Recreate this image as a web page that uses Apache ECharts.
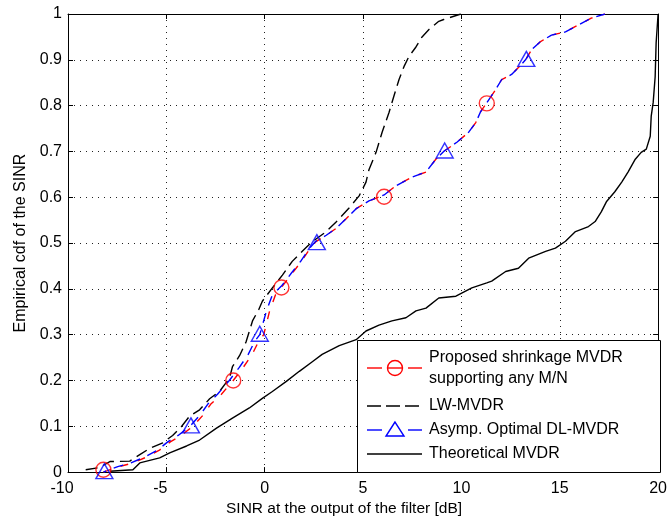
<!DOCTYPE html>
<html>
<head>
<meta charset="utf-8">
<script src="https://cdn.jsdelivr.net/npm/echarts@6/dist/echarts.min.js"></script>
<style>
html,body{margin:0;padding:0;background:#fff;}
#c{width:670px;height:522px;}
</style>
</head>
<body>
<div id="c"></div>
<script>
// ---- data ----
var xTicks = [-10, -5, 0, 5, 10, 15, 20];
var yTicks = [0, 0.1, 0.2, 0.3, 0.4, 0.5, 0.6, 0.7, 0.8, 0.9, 1];

var proposedCurve = [[-8.2,0.0],[-7.4,0.012],[-6.7,0.02],[-6.0,0.033],[-5.35,0.048],[-4.8,0.066],[-4.25,0.08],[-3.65,0.1],[-3.1,0.126],[-2.75,0.148],[-2.2,0.17],[-1.6,0.2],[-1.1,0.228],[-0.65,0.256],[-0.3,0.286],[-0.05,0.3],[0.25,0.352],[0.55,0.387],[0.9,0.406],[1.4,0.434],[1.9,0.462],[2.3,0.488],[2.6,0.503],[3.13,0.517],[3.63,0.532],[4.14,0.553],[4.65,0.575],[5.3,0.592],[6.07,0.605],[6.67,0.625],[7.49,0.644],[8.2,0.655],[8.7,0.683],[9.1,0.7],[9.77,0.72],[10.37,0.742],[10.73,0.763],[10.98,0.787],[11.29,0.806],[11.74,0.835],[12.05,0.857],[12.55,0.868],[12.9,0.883],[13.26,0.9],[13.57,0.922],[14.0,0.939],[14.58,0.954],[15.29,0.961],[15.95,0.976],[16.6,0.991],[17.3,1.0]];
var proposedMarkers = [[-8.2,0.005],[-1.6,0.2],[0.85,0.403],[6.07,0.601],[11.29,0.805]];

var lwCurve = [[-9.1,0.005],[-8.4,0.01],[-7.87,0.023],[-6.86,0.024],[-6.35,0.038],[-5.84,0.052],[-5.18,0.064],[-4.68,0.08],[-4.22,0.1],[-3.82,0.122],[-3.31,0.136],[-2.8,0.16],[-2.3,0.176],[-1.79,0.205],[-1.64,0.23],[-1.28,0.254],[-0.95,0.284],[-0.62,0.33],[-0.3,0.355],[-0.12,0.373],[0.39,0.402],[0.9,0.43],[1.4,0.46],[1.91,0.482],[2.42,0.503],[3.13,0.525],[3.63,0.546],[4.3,0.577],[4.8,0.603],[5.15,0.633],[5.3,0.66],[5.66,0.698],[5.97,0.742],[6.32,0.785],[6.57,0.821],[6.83,0.857],[7.08,0.885],[7.33,0.907],[7.69,0.928],[8.0,0.95],[8.35,0.966],[8.85,0.984],[9.1,0.988],[9.97,1.0]];

var dlCurve = [[-8.2,0.0],[-7.47,0.012],[-6.8,0.02],[-6.1,0.033],[-5.44,0.048],[-4.93,0.066],[-4.4,0.08],[-3.8,0.1],[-3.26,0.126],[-2.9,0.148],[-2.4,0.17],[-1.8,0.2],[-1.3,0.228],[-0.85,0.256],[-0.5,0.286],[-0.25,0.3],[0.09,0.352],[0.39,0.387],[0.85,0.406],[1.35,0.434],[1.86,0.462],[2.27,0.488],[2.57,0.503],[3.13,0.517],[3.63,0.532],[4.14,0.553],[4.65,0.575],[5.3,0.592],[6.07,0.605],[6.67,0.625],[7.49,0.644],[8.2,0.655],[8.7,0.683],[9.1,0.7],[9.77,0.72],[10.37,0.742],[10.73,0.763],[10.98,0.787],[11.29,0.806],[11.74,0.835],[12.05,0.857],[12.55,0.868],[12.9,0.883],[13.26,0.9],[13.57,0.922],[14.0,0.939],[14.58,0.954],[15.29,0.961],[15.95,0.976],[16.6,0.991],[17.3,1.0]];
var dlMarkers = [[-8.15,0.002],[-3.75,0.102],[-0.25,0.302],[2.65,0.502],[9.15,0.702],[13.3,0.902]];

var theoCurve = [[-7.87,0.002],[-6.7,0.005],[-6.35,0.02],[-5.34,0.031],[-4.83,0.042],[-3.97,0.057],[-3.31,0.07],[-2.45,0.096],[-1.64,0.118],[-0.78,0.14],[-0.12,0.161],[0.39,0.176],[1.1,0.198],[1.76,0.22],[2.42,0.241],[2.92,0.257],[3.79,0.276],[4.65,0.289],[5.15,0.308],[5.81,0.321],[6.47,0.33],[7.18,0.337],[7.69,0.352],[8.2,0.358],[8.85,0.38],[9.72,0.384],[10.53,0.402],[11.29,0.413],[11.54,0.417],[12.25,0.438],[12.9,0.445],[13.42,0.467],[14.28,0.482],[14.78,0.489],[15.29,0.504],[15.8,0.525],[16.46,0.536],[16.8,0.547],[17.11,0.568],[17.37,0.59],[17.8,0.612],[18.15,0.633],[18.47,0.655],[18.84,0.683],[19.14,0.698],[19.4,0.705],[19.6,0.733],[19.65,0.777],[19.75,0.807],[19.85,0.863],[19.9,0.937],[20.0,1.0]];

var legendNames = ["Proposed shrinkage MVDR\nsupporting any M/N", "LW-MVDR", "Asymp. Optimal DL-MVDR", "Theoretical MVDR"];
var xName = "SINR at the output of the filter [dB]";
var yName = "Empirical cdf of the SINR";

// ---- chart ----
var FONT = "'Liberation Sans', Arial, sans-serif";
var chart = echarts.init(document.getElementById('c'), null, {renderer: 'canvas'});

var gridL = 68, gridT = 14, gridW = 592, gridH = 461;
var gridLine = {show: true, lineStyle: {color: '#222', type: [1, 5], width: 1}};

function lineSeries(data, color, dash, offset, z) {
  return {
    type: 'line', data: data, symbol: 'none', silent: true, z: z,
    lineStyle: {color: color, width: 1.4, type: dash, dashOffset: offset || 0},
    animation: false
  };
}
function markerSeries(data, symbol, size, color) {
  return {
    type: 'scatter', data: data, symbol: symbol, symbolSize: size, silent: true, z: 6,
    itemStyle: {color: 'rgba(0,0,0,0)', borderColor: color, borderWidth: 1.4},
    animation: false
  };
}

// legend (drawn as graphics)
var LX = 357, LY = 340, LW = 303, LH = 132;
var rows = [
  {y: 368, color: '#ff0000', dash: [14, 5], mark: 'circle', t: [legendNames[0].split('\n')[0], legendNames[0].split('\n')[1]], ty: [358, 379]},
  {y: 406, color: '#000000', dash: [14, 5], mark: null, t: [legendNames[1]], ty: [406]},
  {y: 430, color: '#0000ff', dash: [14, 5], mark: 'triangle', t: [legendNames[2]], ty: [430]},
  {y: 454, color: '#000000', dash: null, mark: null, t: [legendNames[3]], ty: [454]}
];
var g = [{type: 'rect', z: 100, shape: {x: LX + 0.5, y: LY + 0.5, width: LW, height: LH}, style: {fill: '#fff', stroke: '#000', lineWidth: 1}}];
rows.forEach(function (r) {
  if (r.mark) {
    g.push({type: 'line', z: 101, shape: {x1: 367, y1: r.y, x2: 382, y2: r.y}, style: {stroke: r.color, lineWidth: 1.4}});
    g.push({type: 'line', z: 101, shape: {x1: 408, y1: r.y, x2: 422, y2: r.y}, style: {stroke: r.color, lineWidth: 1.4}});
    if (r.mark === 'circle') {
      g.push({type: 'line', z: 101, shape: {x1: 388, y1: r.y, x2: 402, y2: r.y}, style: {stroke: r.color, lineWidth: 1.4}});
      g.push({type: 'circle', z: 102, shape: {cx: 395, cy: r.y, r: 7.5}, style: {fill: 'none', stroke: r.color, lineWidth: 1.4}});
    } else {
      g.push({type: 'polygon', z: 102, shape: {points: [[395, r.y - 8], [386, r.y + 6], [404, r.y + 6]]}, style: {fill: 'none', stroke: r.color, lineWidth: 1.4}});
    }
  } else {
    g.push({type: 'line', z: 101, shape: {x1: 367, y1: r.y, x2: 422, y2: r.y}, style: {stroke: r.color, lineWidth: 1.4, lineDash: r.dash}});
  }
  r.t.forEach(function (txt, i) {
    g.push({type: 'text', z: 103, x: 429, y: r.ty[i], style: {text: txt, fill: '#000', font: '16px ' + FONT, textVerticalAlign: 'middle', verticalAlign: 'middle'}});
  });
});

var option = {
  backgroundColor: '#fff',
  animation: false,
  grid: {left: gridL, top: gridT, width: gridW, height: gridH, containLabel: false},
  xAxis: [{
    type: 'value', min: -10, max: 20, interval: 5,
    name: xName, nameLocation: 'middle', nameGap: 26,
    nameTextStyle: {fontFamily: FONT, fontSize: 15.5, color: '#000', padding: [0, 38, 0, 0]},
    axisLine: {show: true, onZero: false, lineStyle: {color: '#000', width: 1}},
    axisTick: {show: true, inside: true, length: 5, lineStyle: {color: '#000'}},
    axisLabel: {fontFamily: FONT, fontSize: 16, color: '#000', margin: 8,
      formatter: function (v) { return v < 0 ? '{neg|' + v + '}' : String(v); },
      rich: {neg: {fontFamily: FONT, fontSize: 16, color: '#000', padding: [0, 12, 0, 0]}}},
    splitLine: gridLine
  }, {
    type: 'value', min: -10, max: 20, interval: 5, position: 'top',
    axisLine: {show: true, onZero: false, lineStyle: {color: '#000', width: 1}},
    axisTick: {show: true, inside: true, length: 5, lineStyle: {color: '#000'}},
    axisLabel: {show: false}, splitLine: {show: false}
  }],
  yAxis: [{
    type: 'value', min: 0, max: 1, interval: 0.1,
    name: yName, nameLocation: 'middle', nameGap: 39, nameRotate: 90,
    nameTextStyle: {fontFamily: FONT, fontSize: 16, color: '#000'},
    axisLine: {show: true, onZero: false, lineStyle: {color: '#000', width: 1}},
    axisTick: {show: true, inside: true, length: 5, lineStyle: {color: '#000'}},
    axisLabel: {fontFamily: FONT, fontSize: 16, color: '#000', margin: 6,
      formatter: function (v) { return String(Math.round(v * 10) / 10); }},
    splitLine: gridLine
  }, {
    type: 'value', min: 0, max: 1, interval: 0.1, position: 'right',
    axisLine: {show: true, onZero: false, lineStyle: {color: '#000', width: 1}},
    axisTick: {show: true, inside: true, length: 5, lineStyle: {color: '#000'}},
    axisLabel: {show: false}, splitLine: {show: false}
  }],
  series: [
    lineSeries(theoCurve, '#000', 'solid', 0, 3),
    lineSeries(lwCurve, '#000', [12, 6], 0, 3),
    lineSeries(proposedCurve, '#ff0000', [8, 10], 0, 4),
    lineSeries(dlCurve, '#0000ff', [10, 8], 7, 5),
    markerSeries(proposedMarkers, 'circle', 15, '#ff0000'),
    markerSeries(dlMarkers, 'triangle', [17, 15], '#0000ff')
  ],
  graphic: g
};
chart.setOption(option);
</script>
</body>
</html>
